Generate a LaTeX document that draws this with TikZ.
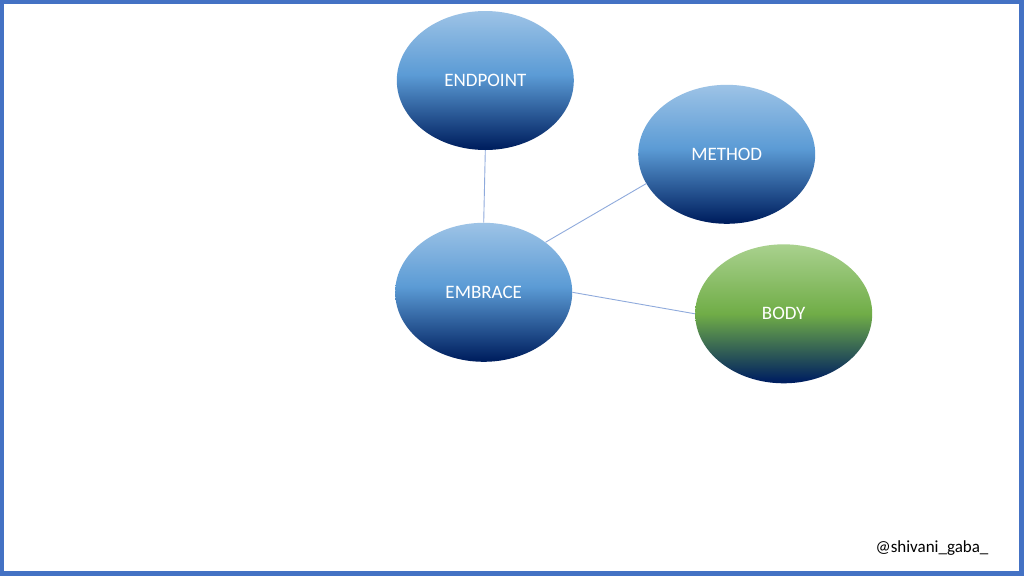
\documentclass[tikz,border=0pt]{standalone}
\usepackage{fontspec}
\setmainfont{Carlito}
\usetikzlibrary{shapes.geometric}
\definecolor{frameblue}{HTML}{4472C4}
\definecolor{linkblue}{HTML}{8FAADC}
\definecolor{navy}{HTML}{002060}
\definecolor{lightblue}{HTML}{9DC3E6}
\definecolor{midblue}{HTML}{5B9BD5}
\definecolor{lightgreen}{HTML}{A9D18E}
\definecolor{midgreen}{HTML}{70AD47}
\pgfdeclareverticalshading{blueball}{100bp}{color(0bp)=(navy); color(26bp)=(navy); color(52bp)=(midblue); color(75bp)=(lightblue); color(100bp)=(lightblue)}
\pgfdeclareverticalshading{greenball}{100bp}{color(0bp)=(navy); color(26bp)=(navy); color(50bp)=(midgreen); color(75bp)=(lightgreen); color(100bp)=(lightgreen)}
\begin{document}
\begin{tikzpicture}[x=1pt,y=-1pt,
    ball/.style={ellipse, minimum width=177pt, minimum height=139pt, inner sep=0pt,
        shading=blueball, text=white, font=\fontsize{19}{21}\selectfont},
    greenball/.style={ball, shading=greenball},
    link/.style={draw=linkblue, line width=0.9pt}
    ]
	\fill[frameblue] (0,0) rectangle (1024,576);
	\fill[white] (4,4) rectangle (1019,571);
	\node [ball] (endpoint) at (485.3,80.5) {ENDPOINT};
	\node [ball] (method) at (726.7,154.3) {METHOD};
	\node [ball] (embrace) at (483.7,292.3) {EMBRACE};
	\node [greenball] (body) at (783.7,313.8) {BODY};
	\draw [link] (endpoint.south) -- (embrace.north);
	\draw [link] (embrace.39) -- (method.200);
	\draw [link] (embrace.east) -- (body.west);
	\node [anchor=base east, font=\fontsize{17}{19}\selectfont] (tag) at (992,552) {@shivani\_gaba\_};
\end{tikzpicture}
\end{document}
